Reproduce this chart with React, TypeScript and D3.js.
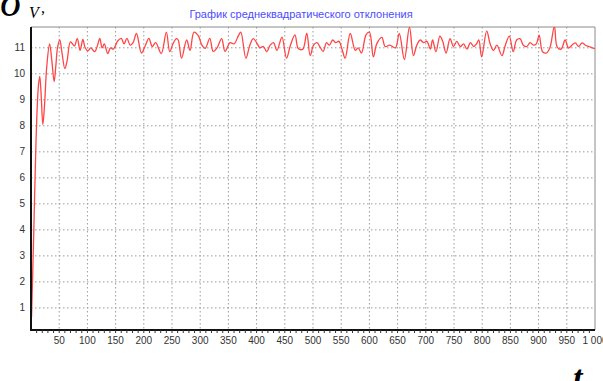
import React from "react";
import * as d3 from "d3";

const W = 603;
const H = 381;

const titleText = "График среднеквадратического отклонения";
const yTicks = [1, 2, 3, 4, 5, 6, 7, 8, 9, 10, 11];
const xTicks = [50, 100, 150, 200, 250, 300, 350, 400, 450, 500, 550, 600, 650, 700, 750, 800, 850, 900, 950, 1000];

const tValues = [
  1, 5, 9, 13, 15.5, 18, 21, 24, 28, 33, 37, 41, 44, 47, 51, 55, 60, 64, 70, 77, 82, 87, 92, 96, 101, 106, 113, 118, 122, 126, 130, 136, 141, 146, 154, 160, 165, 170, 176, 181, 187, 196, 203, 209, 215, 221, 231, 240, 246, 252, 258, 261, 267, 276, 282, 289, 297, 303, 309, 317, 323, 330, 338, 344, 353, 360, 368, 372, 381, 388, 394, 400, 406, 412, 418, 424, 430, 436, 445, 453, 460, 468, 474, 482, 489, 495, 501, 507, 512, 518, 524, 529, 535, 540, 546, 552, 557, 566, 575, 580, 586, 594, 600, 607, 613, 622, 628, 636, 646, 653, 662, 671, 678, 684, 690, 696, 702, 708, 712, 718, 725, 730, 736, 743, 749, 755, 761, 767, 773, 779, 785, 790, 794, 799, 808, 814, 820, 826, 835, 841, 848, 855, 861, 867, 873, 879, 885, 891, 896, 901, 907, 914, 920, 928, 933, 940, 947, 953, 959, 965, 971, 977, 983, 989, 995, 1000,
];
const sigmaValues = [
  0.65, 4, 7.5, 9.5, 9.9, 9.2, 8.05, 8.8, 10.3, 11.15, 10.5, 9.7, 10.3, 11.0, 11.3, 10.8, 10.2, 10.5, 11.23, 11.07, 11.36, 10.9, 11.32, 11.0, 10.88, 11.0, 10.85, 11.1, 11.36, 11.0, 11.15, 10.78, 11.0, 10.95, 11.27, 11.36, 11.15, 11.36, 11.1, 11.2, 11.55, 10.8, 11.1, 11.36, 11.05, 11.2, 10.78, 11.6, 10.85, 11.17, 11.35, 11.3, 10.6, 11.3, 10.9, 11.6, 11.45, 11.1, 10.98, 11.36, 10.86, 11.0, 11.35, 10.86, 11.2, 11.15, 11.48, 11.6, 10.6, 11.1, 11.35, 11.2, 11.0, 11.05, 10.85, 11.1, 11.2, 10.9, 11.41, 10.6, 11.1, 11.5, 10.97, 10.95, 11.56, 10.7, 11.1, 11.2, 11.05, 10.86, 11.2, 11.1, 11.3, 11.2, 11.25, 10.9, 10.6, 11.55, 10.9, 11.0, 10.8, 11.5, 11.6, 10.65, 11.15, 11.4, 11.05, 11.1, 11.0, 11.55, 10.55, 11.8, 10.7, 11.1, 11.3, 11.2, 11.25, 10.95, 11.3, 10.85, 11.45, 11.25, 10.8, 11.35, 11.05, 11.25, 11.05, 11.15, 10.95, 11.2, 11.05, 11.15, 11.3, 10.65, 11.65, 11.16, 10.9, 11.1, 10.7, 11.1, 11.45, 10.85, 11.3, 11.35, 11.1, 11.05, 11.2, 11.1, 11.15, 11.49, 10.85, 10.8, 11.0, 11.83, 11.03, 10.95, 11.3, 10.99, 11.1, 11.19, 11.05, 11.19, 11.1, 11.05, 11.0, 10.97,
];

const fmtX = (v: number) => (v >= 1000 ? d3.format(",")(v).replace(",", " ") : String(v));

export default function App() {
  const left = 31, right = 595, top = 27, bottom = 330;
  const x = d3.scaleLinear().domain([0, 1000]).range([left, right]);
  const y = d3.scaleLinear().domain([0.15, 11.8]).range([bottom, top]);
  const data = tValues.map((t, i) => [t, sigmaValues[i]] as [number, number]);
  const line = d3
    .line<[number, number]>()
    .x((d) => x(d[0]))
    .y((d) => y(d[1]))
    .curve(d3.curveCatmullRom.alpha(0.5));
  const minor = d3.range(10, 1000, 10);
  const serif = "'Liberation Serif', 'Times New Roman', serif";

  return (
    <svg
      width={W}
      height={H}
      style={{ position: "absolute", left: 0, top: 0, background: "#fff" }}
      fontFamily="'Liberation Sans', Arial, sans-serif"
    >
      <defs>
        <clipPath id="plotClip">
          <rect x={left} y={top} width={right - left} height={bottom - top} />
        </clipPath>
      </defs>
      <rect x={0} y={0} width={W} height={H} fill="#fff" />
      {yTicks.map((v) => (
        <line key={"gy" + v} x1={left} x2={right} y1={y(v)} y2={y(v)} stroke="#9a9a9a" strokeDasharray="1.5,2.5" strokeWidth={1} />
      ))}
      {xTicks.filter((v) => v < 1000).map((v) => (
        <line key={"gx" + v} x1={x(v)} x2={x(v)} y1={top} y2={bottom} stroke="#9a9a9a" strokeDasharray="1.5,2.5" strokeWidth={1} />
      ))}
      <line x1={left} x2={right} y1={top} y2={top} stroke="#8a8a8a" strokeWidth={1} />
      <line x1={right} x2={right} y1={top} y2={bottom} stroke="#8a8a8a" strokeWidth={1} />
      <path d={line(data) || ""} fill="none" stroke="#ff4545" strokeWidth={1.3} strokeLinejoin="round" clipPath="url(#plotClip)" />
      <line x1={left} x2={left} y1={top} y2={bottom + 1} stroke="#111" strokeWidth={2} />
      <line x1={left} x2={right} y1={bottom} y2={bottom} stroke="#111" strokeWidth={2} />
      {minor.map((v) => (
        <line key={"mt" + v} x1={x(v)} x2={x(v)} y1={bottom} y2={bottom + 3} stroke="#333" strokeWidth={1} />
      ))}
      {yTicks.map((v) => (
        <text key={"yl" + v} x={25} y={y(v) + 3.5} fontSize={10} fill="#333" textAnchor="end">
          {v}
        </text>
      ))}
      {xTicks.map((v) => (
        <text key={"xl" + v} x={x(v)} y={344} fontSize={10} fill="#333" textAnchor="middle">
          {fmtX(v)}
        </text>
      ))}
      <text x={301} y={18} fontSize={11} fill="#4b4bff" textAnchor="middle">
        {titleText}
      </text>
      <text x={0} y={16} fontSize={44} fontStyle="italic" fontFamily={serif} fill="#000">
        σ
      </text>
      <text x={29} y={18} fontSize={16} fontStyle="italic" fontFamily={serif} fill="#000">
        V
      </text>
      <text x={41} y={13} fontSize={16} fontFamily={serif} fill="#000">
        ,
      </text>
      <text x={573} y={389} fontSize={34} fontStyle="italic" fontWeight="bold" fontFamily={serif} fill="#000">
        t
      </text>
    </svg>
  );
}
